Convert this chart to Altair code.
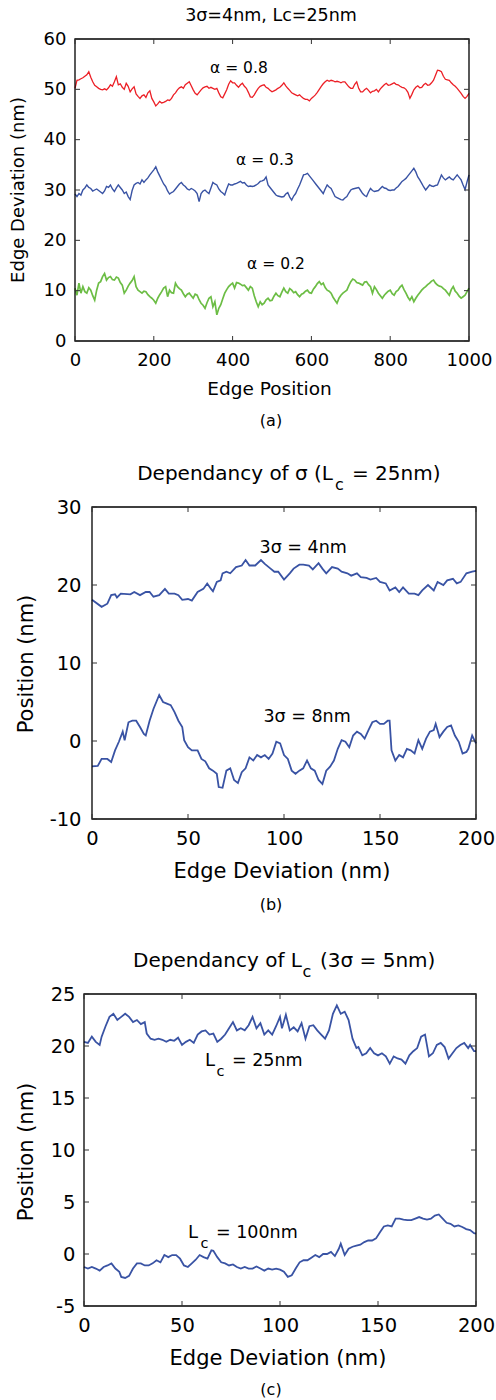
import altair as alt
import pandas as pd

FONT = "DejaVu Sans"
TICK_COLOR = "#333333"
PAGE_W, PAGE_H = 496, 1400

# ---------------- panel (a) data: x = 0, 5, 10, ... 1000 ----------------
A_SERIES = ["α = 0.8", "α = 0.3", "α = 0.2"]
A_COLORS = ["#ec1f26", "#3953a4", "#6cbd45"]
A_WIDTHS = [1.3, 1.4, 1.7]
A_RED = [
    50.2, 51.8, 51.9, 52.1, 52.3, 52.6, 52.9, 53.5, 52.4, 51.5,
    50.8, 50.5, 50.2, 50.0, 49.9, 50.1, 49.9, 50.3, 50.9, 50.6,
    51.5, 52.5, 50.9, 51.1, 50.4, 50.0, 51.2, 50.6, 49.5, 50.1,
    50.5, 49.1, 48.6, 48.2, 48.7, 48.9, 48.4, 49.3, 49.7, 48.2,
    47.5, 46.7, 47.1, 47.6, 47.3, 47.4, 47.6, 47.9, 47.8, 48.2,
    48.9, 49.3, 49.9, 50.3, 50.5, 50.2, 50.9, 51.2, 51.5, 50.7,
    49.9, 49.2, 48.9, 49.4, 49.9, 50.3, 50.5, 50.6, 50.2, 50.4,
    50.2, 50.0, 50.2, 49.3, 48.5, 48.3, 49.1, 49.9, 51.0, 51.7,
    51.3, 51.3, 50.8, 50.4, 50.9, 51.2, 50.6, 50.2, 49.4, 48.5,
    48.4, 48.9, 49.6, 50.2, 50.6, 50.8, 50.9, 50.4, 50.2, 49.8,
    49.5, 49.7, 49.9, 50.2, 50.4, 50.8, 51.3, 50.7, 50.2, 49.8,
    49.3, 49.1, 48.9, 48.7, 48.9, 48.5, 48.2, 48.0, 48.0, 47.7,
    48.2, 48.5, 48.9, 49.4, 50.0, 50.6, 51.1, 51.5, 51.8, 51.6,
    51.8, 51.7, 51.5, 51.6, 51.5, 51.3, 51.5, 51.5, 51.0, 50.5,
    50.2, 50.2, 51.0, 51.5, 50.2, 49.5, 49.5, 49.9, 50.2, 49.8,
    49.3, 49.6, 49.7, 50.0, 49.5, 50.1, 50.5, 50.9, 51.2, 50.8,
    50.9, 51.1, 51.3, 51.0, 50.9, 50.6, 50.4, 50.3, 50.0, 49.4,
    48.2, 49.0, 49.9, 50.4, 50.7, 50.3, 50.4, 50.9, 51.2, 50.8,
    50.9, 51.3, 51.8, 52.8, 53.8, 53.7, 53.5, 52.6, 52.0, 51.9,
    51.8, 51.3, 50.9, 50.6, 50.2, 49.7, 49.2, 48.6, 48.2, 48.6,
    49.2,
]
A_BLUE = [
    29.2, 28.7, 29.3, 29.0, 30.0, 30.4, 31.0, 30.5, 30.3, 29.8,
    30.0, 30.2, 29.9, 29.6, 29.3, 29.8, 30.7, 30.5, 31.0, 30.2,
    29.7, 30.4, 31.0, 30.5, 30.0, 29.3, 29.6, 28.7, 28.1, 29.9,
    31.0, 31.3, 31.5, 31.2, 32.0, 31.5, 32.0, 32.4, 33.0, 33.5,
    34.0, 34.6, 33.6, 32.8, 32.0, 31.2, 30.7, 29.8, 29.2, 29.5,
    29.7, 30.2, 30.7, 31.2, 31.5, 31.0, 30.7, 30.2, 30.0, 30.3,
    30.1, 29.8, 29.3, 27.7, 29.3, 29.8, 30.0, 29.6, 29.3, 30.4,
    31.5, 31.2, 31.0, 30.2, 29.7, 29.4, 29.0, 30.2, 31.2, 31.0,
    31.0, 31.2, 31.3, 31.5, 31.7, 31.4, 31.5, 31.0, 30.7, 30.8,
    30.7, 30.8, 31.0, 31.3, 31.7, 31.8, 32.0, 32.6, 31.0, 30.5,
    30.0, 29.5, 29.0, 28.8, 28.7, 28.6, 28.7, 29.2, 29.5, 28.6,
    28.0, 28.8, 29.3, 30.2, 31.0, 32.0, 33.0, 33.1, 33.3, 32.8,
    32.3, 31.8, 31.3, 30.8, 30.3, 29.8, 29.3, 30.2, 31.0, 30.6,
    30.3, 29.5, 28.7, 28.5, 28.3, 28.1, 28.0, 28.4, 28.7, 29.4,
    30.0, 30.2, 30.3, 30.4, 30.5, 29.9, 29.3, 28.9, 28.7, 29.6,
    30.3, 29.9, 29.7, 29.8, 29.9, 30.3, 30.7, 30.4, 30.3, 30.0,
    29.9, 30.0, 30.0, 30.4, 30.7, 31.2, 31.7, 32.0, 32.3, 32.8,
    33.3, 33.8, 34.3, 33.6, 32.6, 32.0, 31.3, 30.6, 30.0, 30.5,
    31.0, 30.8, 30.7, 30.9, 31.0, 32.0, 33.0, 32.4, 32.0, 32.3,
    32.6, 32.2, 32.0, 32.5, 33.0, 32.5, 32.0, 31.0, 30.1, 31.6,
    33.0,
]
A_GREEN = [
    10.5, 9.1, 11.5, 9.5, 10.8, 9.8, 9.5, 10.6, 10.1, 9.0,
    8.1, 10.1, 11.5, 11.8, 12.8, 13.4, 12.1, 12.6, 12.8, 12.2,
    12.1, 12.7, 12.5, 11.6, 11.1, 9.5, 10.1, 10.9, 11.5, 12.0,
    12.8, 10.8, 10.1, 9.8, 9.5, 9.9, 9.8, 9.2, 8.8, 8.5,
    8.1, 7.5, 8.5, 9.2, 9.8, 10.5, 10.8, 8.8, 10.1, 9.6,
    9.5, 11.5, 10.8, 10.4, 10.1, 9.4, 8.8, 9.3, 9.5, 9.0,
    8.5, 9.3, 9.1, 8.2, 7.5, 7.1, 6.5, 7.6, 8.5, 8.8,
    6.8, 7.8, 5.2, 6.5, 7.2, 8.4, 9.5, 10.2, 10.8, 11.2,
    11.5, 10.5, 11.6, 11.5, 11.3, 11.0, 11.1, 10.6, 10.1, 10.8,
    10.5, 9.0, 7.8, 6.8, 7.8, 7.2, 7.5, 8.2, 8.5, 8.0,
    8.1, 8.9, 9.5, 9.0, 8.8, 9.7, 10.5, 9.8, 9.5, 10.4,
    10.1, 9.6, 9.8, 9.2, 8.8, 9.3, 9.5, 9.9, 10.1, 9.6,
    9.5, 10.3, 10.8, 11.4, 11.8, 11.2, 11.5, 10.6, 10.1, 9.9,
    9.5, 8.7, 8.1, 7.5, 8.5, 9.1, 9.5, 9.8, 10.1, 11.0,
    11.8, 12.3, 12.1, 11.6, 11.5, 11.3, 11.1, 11.7, 11.8, 11.2,
    10.8, 9.5, 10.8, 10.2, 9.5, 9.0, 8.5, 9.1, 9.5, 9.9,
    10.1, 9.4, 9.1, 9.8, 10.1, 10.7, 11.1, 10.2, 9.5, 8.7,
    8.1, 8.8, 7.8, 8.5, 9.1, 9.6, 10.1, 10.5, 10.8, 11.2,
    11.5, 11.9, 12.1, 11.5, 11.1, 10.9, 10.8, 10.4, 10.1, 9.6,
    9.1, 10.2, 10.8, 9.9, 9.5, 8.9, 8.5, 8.8, 9.1, 9.8,
    10.5,
]
A_STEP = 5
A_XTICKS = [0, 200, 400, 600, 800, 1000]
A_YTICKS = [0, 10, 20, 30, 40, 50, 60]

# ---------------- panel (b) data ----------------
B_SERIES = ["3σ = 4nm", "3σ = 8nm"]
B_X4 = [0, 5, 8, 10, 12, 13, 15, 20, 22, 25, 28, 30, 32, 35, 38, 40, 43, 45, 47, 50,
        52, 55, 58, 60, 62, 63, 65, 67, 68, 70, 72, 75, 78, 80, 82, 85, 88, 90, 93, 95,
        97, 100, 103, 105, 108, 110, 113, 115, 118, 120, 122, 125, 128, 130, 133, 135, 138, 140, 143, 145,
        148, 150, 153, 155, 158, 160, 162, 165, 168, 170, 172, 175, 178, 180, 183, 185, 188, 190, 192, 195,
        198, 200]
B_Y4 = [18.1, 17.2, 17.6, 18.7, 18.8, 18.4, 18.9, 18.8, 19.1, 18.7, 19.1, 19.1, 18.5, 18.7, 19.5, 18.9, 18.9, 18.7, 18.1, 18.2,
        18.0, 19.1, 19.5, 20.2, 19.5, 19.2, 20.4, 20.6, 21.5, 21.7, 21.5, 22.3, 22.5, 23.2, 22.5, 22.5, 23.2, 22.7, 22.1, 21.7,
        21.7, 20.7, 21.5, 22.1, 22.6, 22.6, 22.5, 22.0, 22.8, 22.1, 21.5, 22.3, 22.1, 21.7, 21.5, 21.2, 21.5, 21.0, 20.9, 20.7,
        20.9, 20.4, 20.2, 19.3, 19.7, 19.1, 19.7, 18.9, 18.9, 18.7, 19.3, 20.0, 19.3, 20.4, 20.0, 20.6, 20.8, 20.2, 20.4, 21.5,
        21.7, 21.8]
B_X8 = [0, 3, 5, 8, 10, 12, 14, 16, 17, 19, 21, 23, 25, 27, 28, 30, 32, 35, 37, 39,
        41, 43, 45, 47, 48, 50, 52, 55, 57, 59, 61, 63, 65, 66, 68, 70, 72, 74, 76, 78,
        80, 82, 84, 86, 88, 90, 92, 94, 96, 98, 100, 102, 104, 106, 108, 110, 112, 114, 116, 118,
        120, 122, 124, 126, 128, 130, 132, 134, 136, 138, 140, 142, 144, 146, 148, 150, 152, 154, 155, 156,
        158, 160, 162, 164, 166, 168, 170, 172, 174, 176, 178, 179, 181, 183, 185, 187, 189, 191, 193, 195,
        196, 198, 200]
B_Y8 = [-3.25, -3.2, -2.3, -2.3, -2.7, -1.2, -0.1, 1.2, 0.1, 2.4, 2.6, 2.6, 1.8, 0.9, 0.7, 2.6, 4.1, 5.9, 5.0, 4.8,
        4.6, 3.7, 2.6, 1.8, 0.1, -0.8, -1.2, -1.2, -2.3, -2.6, -3.5, -3.8, -4.2, -5.9, -6.0, -3.8, -3.5, -5.0, -5.4, -4.0,
        -3.5, -2.1, -2.5, -1.8, -2.1, -1.8, -2.3, -1.6, -0.1, -0.3, -1.8, -2.3, -3.8, -4.2, -3.8, -3.5, -2.5, -3.5, -3.8, -5.0,
        -5.5, -3.8, -3.3, -2.5, -1.0, 0.1, -0.1, -0.8, 0.7, 1.2, 0.9, 0.3, 1.4, 2.4, 2.6, 2.2, 2.2, 2.6, 2.6, -1.2,
        -2.5, -1.8, -2.1, -1.0, -1.2, -1.6, 0.1, -1.0, 0.3, 1.2, 1.4, 2.2, 0.5, 1.2, 1.8, 2.0, 0.7, -0.1, -1.6, -1.4,
        -1.0, 0.7, -0.3]
B_XTICKS = [0, 50, 100, 150, 200]
B_YTICKS = [-10, 0, 10, 20, 30]

# ---------------- panel (c) data ----------------
C_SERIES = ["Lc = 25nm", "Lc = 100nm"]
C_X25 = [0, 2, 4, 6, 8, 9, 11, 13, 15, 17, 19, 21, 23, 25, 27, 29, 31, 32, 34, 36,
         38, 40, 42, 44, 46, 48, 50, 52, 54, 56, 58, 60, 62, 64, 66, 68, 70, 72, 74, 76,
         78, 80, 82, 84, 86, 88, 90, 92, 94, 96, 98, 100, 101, 103, 105, 107, 109, 111, 113, 115,
         117, 119, 121, 123, 125, 127, 129, 131, 133, 135, 137, 139, 140, 142, 144, 146, 148, 150, 152, 154,
         156, 158, 160, 162, 164, 166, 168, 170, 172, 174, 176, 178, 180, 182, 184, 186, 188, 190, 192, 194,
         196, 197, 199, 200]
C_Y25 = [20.4, 20.3, 20.9, 20.4, 20.1, 20.9, 21.9, 22.8, 23.1, 22.5, 22.8, 23.1, 22.8, 22.3, 22.5, 22.1, 22.3, 21.2, 20.7, 20.6,
         20.7, 20.6, 20.4, 20.6, 20.5, 20.8, 20.1, 20.4, 20.6, 20.3, 21.1, 21.4, 21.5, 21.1, 21.2, 20.4, 20.7, 21.1, 21.7, 22.3,
         21.5, 21.7, 21.5, 22.0, 22.8, 21.7, 22.2, 21.1, 21.5, 21.1, 21.9, 22.8, 21.7, 23.0, 21.5, 21.8, 21.4, 22.2, 20.7, 21.9,
         22.0, 21.5, 21.1, 20.7, 21.5, 23.1, 23.9, 23.1, 23.3, 22.5, 20.7, 19.8, 19.9, 19.1, 19.3, 19.8, 19.3, 19.1, 19.3, 19.0,
         18.3, 19.0, 18.8, 18.7, 18.3, 19.1, 19.5, 19.8, 20.9, 21.1, 19.0, 19.3, 20.1, 20.3, 19.9, 18.8, 19.3, 19.8, 20.1, 20.3,
         19.8, 20.1, 19.5, 19.5]
C_X100 = [0, 2, 4, 6, 8, 10, 12, 14, 16, 18, 19, 21, 23, 25, 27, 29, 31, 33, 35, 37,
          39, 41, 43, 45, 47, 49, 51, 53, 55, 57, 59, 61, 63, 65, 66, 68, 70, 72, 74, 76,
          78, 80, 82, 84, 86, 88, 90, 92, 94, 96, 98, 100, 102, 104, 106, 108, 110, 112, 114, 116,
          118, 120, 122, 124, 126, 128, 130, 131, 133, 135, 137, 139, 141, 143, 145, 147, 149, 151, 153, 155,
          157, 159, 161, 163, 165, 167, 169, 171, 173, 175, 177, 179, 181, 183, 185, 187, 189, 191, 193, 195,
          197, 199, 200]
C_Y100 = [-1.25, -1.4, -1.25, -1.4, -1.6, -1.25, -1.1, -0.9, -1.4, -1.7, -2.2, -2.3, -2.1, -1.4, -0.9, -0.9, -1.1, -1.1, -0.9, -0.6,
          -0.8, -0.1, -0.3, -0.1, -0.1, -0.45, -1.1, -1.25, -0.9, -0.55, -0.1, -0.3, -0.45, 0.35, 0.3, -0.3, -0.8, -0.9, -1.1, -1.0,
          -1.25, -1.4, -1.25, -1.4, -1.4, -1.2, -1.4, -1.6, -1.4, -1.5, -1.4, -1.5, -1.7, -2.2, -2.05, -1.4, -0.8, -0.6, -0.6, -0.35,
          -0.1, -0.3, 0.0, 0.0, 0.2, -0.2, 0.5, 1.0, -0.1, 0.5, 0.7, 0.8, 0.9, 1.15, 1.3, 1.3, 1.5, 2.1, 2.65, 2.75,
          2.65, 3.4, 3.4, 3.3, 3.25, 3.25, 3.4, 3.55, 3.4, 3.3, 3.4, 3.7, 3.8, 3.4, 3.0, 2.9, 2.65, 2.75, 2.6, 2.4,
          2.3, 2.0, 1.95]
C_XTICKS = [0, 50, 100, 150, 200]
C_YTICKS = [-5, 0, 5, 10, 15, 20, 25]

BLUE = "#3953a4"
ONE = alt.InlineData(values=[{"k": 0}])


def panel(df, series, colors, widths, xdom, ydom, xr, yr, xt, yt, lsize, xpad, ypad,
          pix_texts, data_texts):
    """xr = [left, right] page pixels of plot frame, yr = [bottom, top]."""
    SX = alt.Scale(domain=xdom, range=xr, nice=False, zero=False)
    SY = alt.Scale(domain=ydom, range=yr, nice=False, zero=False)
    common = dict(title=None, grid=False, ticks=False, domain=False,
                  labelFont=FONT, labelFontSize=lsize, labelColor="black",
                  labelFlush=False, labelOverlap=False, labelBound=False,
                  labelExpr="'' + datum.value")
    AX = alt.Axis(orient="bottom", offset=yr[0] - PAGE_H, values=xt,
                  labelPadding=xpad, **common)
    AY = alt.Axis(orient="left", offset=-xr[0], values=yt,
                  labelPadding=ypad, **common)

    def X(f, axis=None):
        return alt.X(f, scale=SX, axis=axis)

    def Y(f, axis=None):
        return alt.Y(f, scale=SY, axis=axis)

    layers = []
    for i, (name, col, w) in enumerate(zip(series, colors, widths)):
        sub = df[df["s"] == name]
        layers.append(
            alt.Chart(sub).mark_line(strokeWidth=w, color=col).encode(
                x=X("x:Q", AX if i == 0 else None),
                y=Y("y:Q", AY if i == 0 else None)))

    frame_df = pd.DataFrame({"x0": [xdom[0]], "x1": [xdom[1]], "y0": [ydom[0]], "y1": [ydom[1]]})
    frame = alt.Chart(frame_df).mark_rect(fillOpacity=0, stroke="black", strokeWidth=1.3).encode(
        x=X("x0:Q"), x2="x1:Q", y=Y("y0:Q"), y2="y1:Q")
    layers.append(frame)

    xt_df = pd.DataFrame({"t": xt})
    yt_df = pd.DataFrame({"t": yt})
    tick = dict(color=TICK_COLOR, strokeWidth=1)
    top, bot = yr[1], yr[0]
    left, right = xr[0], xr[1]
    layers += [
        alt.Chart(xt_df).mark_rule(**tick).encode(x=X("t:Q"), y=alt.value(top), y2=alt.value(top + 5)),
        alt.Chart(xt_df).mark_rule(**tick).encode(x=X("t:Q"), y=alt.value(bot), y2=alt.value(bot - 5)),
        alt.Chart(yt_df).mark_rule(**tick).encode(y=Y("t:Q"), x=alt.value(left), x2=alt.value(left + 5)),
        alt.Chart(yt_df).mark_rule(**tick).encode(y=Y("t:Q"), x=alt.value(right), x2=alt.value(right - 5)),
    ]
    for (s, px, py, fs, ang, al, bl) in pix_texts:
        layers.append(
            alt.Chart(ONE).mark_text(text=s, font=FONT, fontSize=fs, angle=ang,
                                     align=al, baseline=bl, color="black")
            .encode(x=alt.value(px), y=alt.value(py)))
    for (s, xv, yv, fs, al, bl) in data_texts:
        layers.append(
            alt.Chart(pd.DataFrame({"x": [xv], "y": [yv]}))
            .mark_text(text=s, font=FONT, fontSize=fs, align=al, baseline=bl, color="black")
            .encode(x=X("x:Q"), y=Y("y:Q")))
    return layers


# ---- panel (a)
df_a = pd.concat([
    pd.DataFrame({"x": [A_STEP * i for i in range(len(v))], "y": v, "s": name})
    for name, v in zip(A_SERIES, [A_RED, A_BLUE, A_GREEN])
])
layers_a = panel(
    df_a, A_SERIES, A_COLORS, A_WIDTHS, [0, 1000], [0, 60], [75, 469], [341, 39],
    A_XTICKS, A_YTICKS, 18, 10, 9,
    [("3σ=4nm, Lc=25nm", 271, 16, 17.5, 0, "center", "middle"),
     ("Edge Deviation (nm)", 18.5, 190, 18, 270, "center", "middle"),
     ("Edge Position", 269.5, 389, 18.5, 0, "center", "middle"),
     ("(a)", 271, 421, 16, 0, "center", "middle")],
    [("α = 0.8", 416, 54.2, 15.5, "center", "middle"),
     ("α = 0.3", 482, 36.0, 15.5, "center", "middle"),
     ("α = 0.2", 510, 15.3, 15.5, "center", "middle")],
)

# ---- panel (b)
df_b = pd.concat([
    pd.DataFrame({"x": B_X4, "y": B_Y4, "s": B_SERIES[0]}),
    pd.DataFrame({"x": B_X8, "y": B_Y8, "s": B_SERIES[1]}),
])
layers_b = panel(
    df_b, B_SERIES, [BLUE, BLUE], [1.8, 1.8], [0, 200], [-10, 30], [92, 476], [819, 507],
    B_XTICKS, B_YTICKS, 19.5, 10, 11,
    [("Dependancy of σ (L", 333, 480, 20, 0, "right", "alphabetic"),
     ("c", 335, 490, 16, 0, "left", "alphabetic"),
     ("= 25nm)", 352, 480, 20, 0, "left", "alphabetic"),
     ("Position (nm)", 27, 664, 21, 270, "center", "middle"),
     ("Edge Deviation (nm)", 282, 872, 21, 0, "center", "middle"),
     ("(b)", 271, 905, 16, 0, "center", "middle")],
    [("3σ = 4nm", 110, 24.7, 17.5, "center", "middle"),
     ("3σ = 8nm", 112, 3.1, 17.5, "center", "middle")],
)

# ---- panel (c)
df_c = pd.concat([
    pd.DataFrame({"x": C_X25, "y": C_Y25, "s": C_SERIES[0]}),
    pd.DataFrame({"x": C_X100, "y": C_Y100, "s": C_SERIES[1]}),
])
layers_c = panel(
    df_c, C_SERIES, [BLUE, BLUE], [1.8, 1.8], [0, 200], [-5, 25], [84, 476], [1306, 994],
    C_XTICKS, C_YTICKS, 19.5, 10, 9,
    [("Dependancy of L", 302, 967, 20, 0, "right", "alphabetic"),
     ("c", 302.5, 977, 16, 0, "left", "alphabetic"),
     ("(3σ = 5nm)", 320, 967, 20, 0, "left", "alphabetic"),
     ("Position (nm)", 27, 1152, 21, 270, "center", "middle"),
     ("Edge Deviation (nm)", 278, 1359, 21, 0, "center", "middle"),
     ("(c)", 271, 1390, 16, 0, "center", "middle")],
    [("L", 61.7, 18.08, 18, "left", "alphabetic"),
     ("c", 67.6, 17.12, 14.5, "left", "alphabetic"),
     ("= 25nm", 75.5, 18.08, 17.5, "left", "alphabetic"),
     ("L", 53.1, 1.54, 18, "left", "alphabetic"),
     ("c", 59.4, 0.58, 14.5, "left", "alphabetic"),
     ("= 100nm", 67.3, 1.54, 17.5, "left", "alphabetic")],
)

chart = (
    alt.layer(*(layers_a + layers_b + layers_c))
    .resolve_scale(x="independent", y="independent")
    .resolve_axis(x="independent", y="independent")
    .properties(width=PAGE_W, height=PAGE_H, padding=0, background="white",
                autosize=alt.AutoSizeParams(type="none"))
    .configure_view(strokeWidth=0)
)

chart.save("out.html", embed_options={"renderer": "svg", "actions": False})
